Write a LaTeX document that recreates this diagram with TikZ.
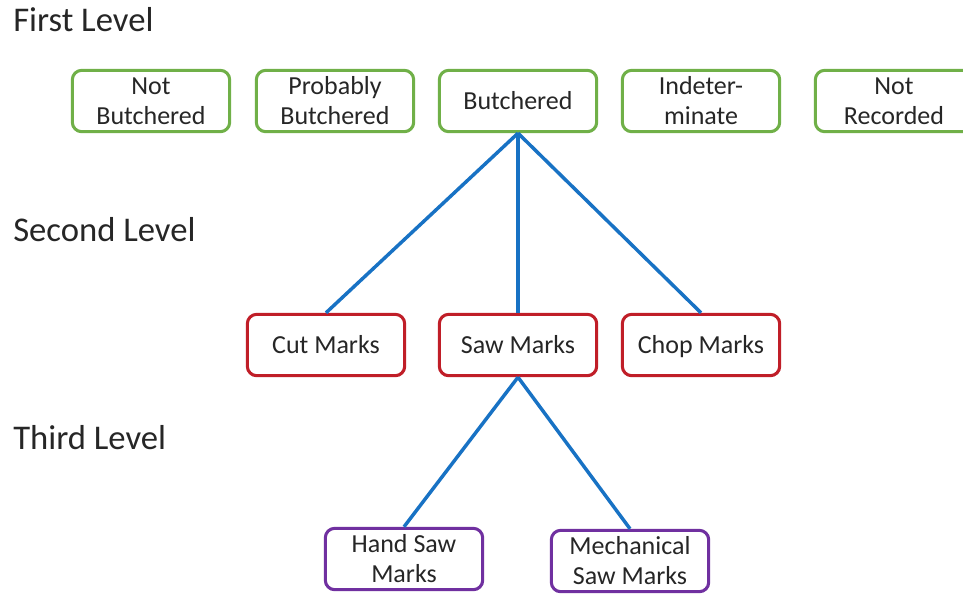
\documentclass[tikz,border=0pt]{standalone}
\usepackage{fontspec}
\setmainfont{Carlito}
\definecolor{lvgreen}{RGB}{112,176,72}
\definecolor{lvred}{RGB}{192,30,40}
\definecolor{lvpurple}{RGB}{112,48,160}
\definecolor{lvblue}{RGB}{24,114,196}
\begin{document}
\begin{tikzpicture}[x=0.75pt,y=-0.75pt,
  box/.style={draw, line width=2.3pt, rounded corners=7pt, minimum width=118pt, minimum height=46pt, inner sep=0pt, align=center, font=\fontsize{19.5}{22.5}\selectfont, text=black!85},
  oneline/.style={text height=15pt, text depth=3pt},
  gbox/.style={box, draw=lvgreen},
  rbox/.style={box, draw=lvred},
  pbox/.style={box, draw=lvpurple},
  link/.style={draw=lvblue, line width=2.6pt},
  lvl/.style={anchor=west, font=\fontsize{26}{30}\selectfont, text=black!85, inner sep=0pt}]
\useasboundingbox (0,0) rectangle (963,594);
\node[lvl] (l1) at (13,20) {First Level};
\node[lvl] (l2) at (13,230) {Second Level};
\node[lvl] (l3) at (13,438) {Third Level};
\node[gbox] (nb) at (151,101) {Not\\Butchered};
\node[gbox] (pb) at (335,101) {Probably\\Butchered};
\node[gbox,oneline] (b) at (518,101) {Butchered};
\node[gbox] (ind) at (701,101) {Indeter-\\minate};
\node[gbox] (nr) at (894,101) {Not\\Recorded};
\node[rbox,oneline] (cut) at (326,345) {Cut Marks};
\node[rbox,oneline] (saw) at (518,345) {Saw Marks};
\node[rbox,oneline] (chop) at (701,345) {Chop Marks};
\node[pbox] (hand) at (404,559) {Hand Saw\\Marks};
\node[pbox] (mech) at (630,561) {Mechanical\\Saw Marks};
\draw[link] (b.south) -- (cut.north);
\draw[link] (b.south) -- (saw.north);
\draw[link] (b.south) -- (chop.north);
\draw[link] (saw.south) -- (hand.north);
\draw[link] (saw.south) -- (mech.north);
\end{tikzpicture}
\end{document}
